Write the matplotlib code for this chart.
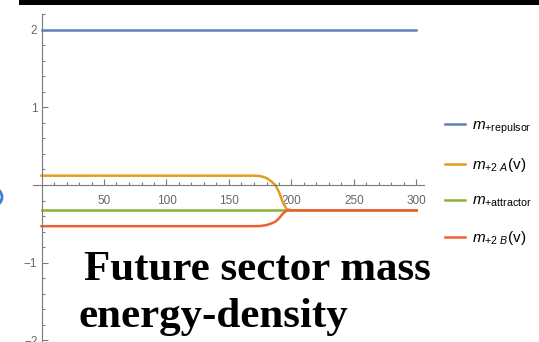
import numpy as np
import matplotlib.pyplot as plt
from matplotlib.lines import Line2D
from matplotlib.patches import Rectangle, Ellipse

# sampled mass curves (v on the x axis)
v_flat = [0, 300]
m_repulsor = [2.0, 2.0]
m_attractor = [-0.325, -0.325]

v_step = [0, 170, 175, 180, 184, 187, 190, 193, 196, 200, 300]
m_2A = [0.12, 0.12, 0.115, 0.09, 0.045, 0.0, -0.09, -0.22, -0.31, -0.325, -0.325]
m_2B = [-0.53, -0.53, -0.528, -0.516, -0.494, -0.473, -0.43, -0.37, -0.33, -0.325, -0.325]

labels = [r'$m_{+\mathrm{repulsor}}$', r'$m_{+2\ A}(\mathrm{v})$',
          r'$m_{+\mathrm{attractor}}$', r'$m_{+2\ B}(\mathrm{v})$']
colors = ['#5E81B5', '#E19C24', '#8FB032', '#EB6235']

plt.rcParams['font.family'] = 'Liberation Sans'
plt.rcParams['mathtext.fontset'] = 'custom'
plt.rcParams['mathtext.rm'] = 'Liberation Sans'
plt.rcParams['mathtext.it'] = 'Liberation Sans:italic'

fig = plt.figure(figsize=(5.39, 3.42), dpi=100)
ax = fig.add_axes([33/539, 0, 391/539, 328/342])

ax.plot(v_flat, m_repulsor, color=colors[0], lw=1.8)
ax.plot(v_step, m_2A, color=colors[1], lw=1.8)
ax.plot(v_flat, m_attractor, color=colors[2], lw=1.8)
ax.plot(v_step, m_2B, color=colors[3], lw=1.8)

ax.set_xlim(-6.8, 306)
ax.set_ylim(-2.02, 2.2)

for s in ['top', 'right']:
    ax.spines[s].set_visible(False)
ax.spines['left'].set_position(('data', 0))
ax.spines['bottom'].set_position(('data', 0))
for s in ['left', 'bottom']:
    ax.spines[s].set_color('#7a7a7a')
    ax.spines[s].set_linewidth(0.8)

ax.set_xticks([50, 100, 150, 200, 250, 300])
ax.set_xticks(np.arange(10, 301, 10), minor=True)
ax.set_yticks([-2, -1, 1, 2])
ax.set_yticks([-1.8, -1.6, -1.4, -1.2, -0.8, -0.6, -0.4, -0.2,
               0.2, 0.4, 0.6, 0.8, 1.2, 1.4, 1.6, 1.8, 2.2], minor=True)
ax.set_yticklabels(['\u22122', '\u22121', '1', '2'])
ax.tick_params(which='both', direction='in', color='#7a7a7a', width=0.8,
               labelsize=8.5, labelcolor='#666666')
ax.tick_params(which='major', length=4)
ax.tick_params(which='minor', length=2)
ax.tick_params(axis='x', pad=7)
ax.tick_params(axis='y', pad=3)
ax.set_facecolor('none')

handles = [Line2D([0], [0], color=c, lw=1.8) for c in colors]
fig.legend(handles, labels, loc='center left', bbox_to_anchor=(431/539, 1 - 183/342),
           frameon=False, fontsize=11, handlelength=1.3, handletextpad=0.5,
           labelspacing=1.3)

# caption over the lower part of the plot
fig.text(84/539, 1 - 280/342, 'Future sector mass', fontsize=31,
         fontfamily='Liberation Serif', fontweight='bold', color='black',
         va='baseline')
fig.text(79/539, 1 - 327/342, 'energy-density', fontsize=31,
         fontfamily='Liberation Serif', fontweight='bold', color='black',
         va='baseline')

# window chrome at the edges
fig.add_artist(Rectangle((19/539, 1 - 4.5/342), 1, 4.5/342, transform=fig.transFigure,
                         facecolor='black', edgecolor='none'))
fig.add_artist(Ellipse((-7/539, 1 - 197/342), 18/539, 18/342, transform=fig.transFigure,
                       facecolor='none', edgecolor='#3d7fd0', lw=2))

fig.savefig('out.png', dpi=100)
